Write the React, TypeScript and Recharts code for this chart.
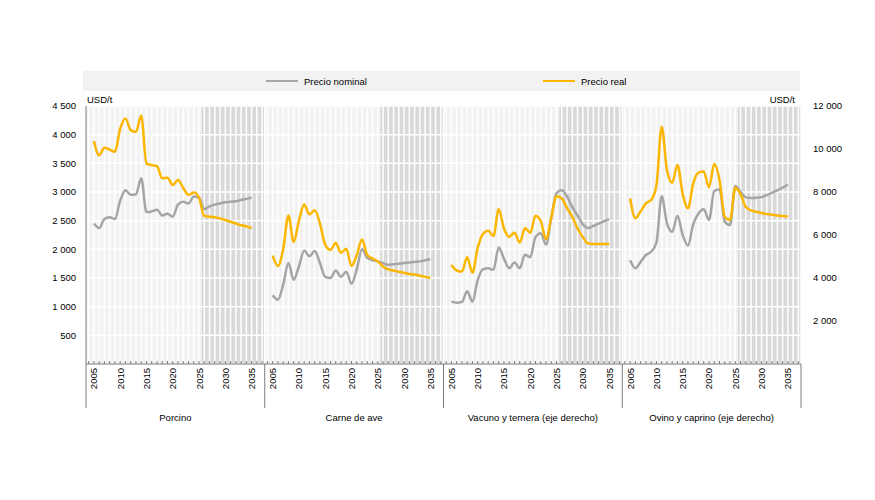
import { ComposedChart, Line, XAxis, YAxis, CartesianGrid, ReferenceArea } from 'recharts';

const years = [
  2005, 2006, 2007, 2008, 2009, 2010, 2011, 2012, 2013, 2014, 2015, 2016, 2017, 2018, 2019, 2020,
  2021, 2022, 2023, 2024, 2025, 2026, 2027, 2028, 2029, 2030, 2031, 2032, 2033, 2034, 2035,
];

const panelNames = ['Porcino', 'Carne de ave', 'Vacuno y ternera (eje derecho)', 'Ovino y caprino (eje derecho)'];

// USD/t, left axis
const porcinoNominal = [
  2450, 2370, 2530, 2560, 2530, 2850, 3030, 2950, 2960, 3240, 2650, 2660, 2690, 2590, 2620, 2570,
  2780, 2830, 2800, 2920, 2900, 2700, 2750, 2780, 2800, 2820, 2830, 2840, 2860, 2880, 2900,
];
const porcinoReal = [
  3890, 3640, 3770, 3740, 3700, 4100, 4280, 4080, 4050, 4330, 3500, 3470, 3450, 3240, 3250, 3120,
  3210, 3070, 2950, 2990, 2900, 2580, 2570, 2560, 2540, 2510, 2480, 2450, 2420, 2400, 2370,
];
const aveNominal = [
  1200, 1120, 1380, 1760, 1470, 1700, 1980, 1880, 1970, 1760, 1520, 1500, 1630, 1520, 1610, 1400,
  1650, 2000, 1850, 1810, 1790, 1760, 1730, 1740, 1750, 1760, 1770, 1780, 1790, 1810, 1830,
];
const aveReal = [
  1890, 1710, 2000, 2590, 2130, 2500, 2780, 2610, 2680, 2450, 2080, 1990, 2110, 1940, 2010, 1710,
  1900, 2170, 1900, 1840, 1790, 1700, 1650, 1630, 1610, 1590, 1570, 1560, 1540, 1520, 1500,
];
// USD/t, right axis
const vacunoNominal = [
  2900, 2850, 2880, 3380, 2900, 3900, 4400, 4450, 4380, 5420, 4900, 4450, 4720, 4450, 5080, 4970,
  5900, 6080, 5550, 6800, 7950, 8080, 7800, 7300, 6900, 6500, 6320, 6420, 6530, 6640, 6740,
];
const vacunoReal = [
  4600, 4350, 4300, 4960, 4250, 5400, 6050, 6200, 5950, 7200, 6300, 5920, 6110, 5650, 6310, 6110,
  6900, 6650, 5800, 6800, 7800, 7700, 7250, 6850, 6300, 5900, 5600, 5580, 5580, 5580, 5580,
];
const ovinoNominal = [
  4830, 4450, 4750, 5070, 5220, 5650, 7800, 6550, 6150, 6900, 6000, 5500, 6500, 7000, 7200, 6700,
  8050, 8130, 6620, 6460, 8280, 8000, 7750, 7720, 7730, 7760, 7850, 7970, 8080, 8200, 8350,
];
const ovinoReal = [
  7700, 6780, 7100, 7470, 7630, 8300, 11040, 9020, 8430, 9260, 7900, 7240, 8400, 8900, 8950, 8220,
  9300, 8560, 6850, 6700, 8200, 7900, 7300, 7150, 7080, 7020, 6980, 6940, 6910, 6880, 6860,
];

const leftTicks = [500, 1000, 1500, 2000, 2500, 3000, 3500, 4000, 4500];
const rightTicks = [2000, 4000, 6000, 8000, 10000, 12000];

const nominalSeries = [porcinoNominal, aveNominal, vacunoNominal, ovinoNominal];
const realSeries = [porcinoReal, aveReal, vacunoReal, ovinoReal];
const axisOf = ['left', 'left', 'right', 'right'];

// each panel: 1 empty slot, 31 years, 2 empty slots
const SLOTS = 34;
const TOTAL = SLOTS * panelNames.length;
const FIRST_PROJ = 2026;

const data = panelNames.flatMap((_, p) =>
  years.map((year, i) => ({
    x: p * SLOTS + 1.5 + i,
    year,
    [`nom${p}`]: nominalSeries[p][i],
    [`real${p}`]: realSeries[p][i],
  }))
);

const yearByX = new Map(data.map((d) => [d.x, d.year]));
const boundaries = panelNames.map((_, p) => p * SLOTS).concat([TOTAL]);
const blankSlots = panelNames.flatMap((_, p) => [p * SLOTS + 0.5, p * SLOTS + 32.5, p * SLOTS + 33.5]);
const xTicks = [...boundaries, ...blankSlots, ...data.map((d) => d.x)].sort((a, b) => a - b);
const nameTicks = panelNames.map((_, p) => p * SLOTS + SLOTS / 2);

const FONT = '"Liberation Sans", Arial, sans-serif';
const GREY = '#a5a5a5';
const YELLOW = '#fbb600';
const AXIS = '#7a7a7a';

const fmt = (v: number) => String(v).replace(/\B(?=(\d{3})+(?!\d))/g, ' ');

const YearTick = (props: any) => {
  const { x, y, payload } = props;
  const v = payload.value;
  if (boundaries.includes(v)) {
    return <line x1={x} x2={x} y1={y} y2={y + 44} stroke={AXIS} strokeWidth={1} />;
  }
  const year = yearByX.get(v);
  return (
    <g>
      <line x1={x} x2={x} y1={y - 3} y2={y} stroke={AXIS} strokeWidth={1} />
      {year !== undefined && year % 5 === 0 && (
        <text
          x={x}
          y={y + 4}
          transform={`rotate(-90 ${x} ${y + 4})`}
          textAnchor="end"
          dominantBaseline="central"
          fontSize={9.5}
          fontFamily={FONT}
          fill="#000"
        >
          {year}
        </text>
      )}
    </g>
  );
};

const LegendItem = ({ color, label, left }: { color: string; label: string; left: number }) => (
  <div style={{ position: 'absolute', left, top: 0, height: 20, display: 'flex', alignItems: 'center' }}>
    <div style={{ width: 32, height: 2.5, background: color, marginRight: 6 }} />
    <span style={{ fontSize: 9.5, color: '#000' }}>{label}</span>
  </div>
);

export default function App() {
  return (
    <div style={{ position: 'absolute', left: 0, top: 0, width: 875, height: 500, fontFamily: FONT, background: '#fff' }}>
      <div style={{ position: 'absolute', left: 83, top: 71, width: 717, height: 20, background: '#f2f2f2' }}>
        <LegendItem color={GREY} label="Precio nominal" left={183} />
        <LegendItem color={YELLOW} label="Precio real" left={460} />
      </div>
      <div style={{ position: 'absolute', left: 87, top: 94, fontSize: 9.5, color: '#000' }}>USD/t</div>
      <div style={{ position: 'absolute', right: 875 - 795, top: 94, fontSize: 9.5, color: '#000' }}>USD/t</div>

      <ComposedChart width={875} height={500} data={data} margin={{ top: 106, right: 0, bottom: 62, left: 0 }}>
        <ReferenceArea yAxisId="left" x1={0} x2={TOTAL} y1={0} y2={4500} fill="#f2f2f2" fillOpacity={1} stroke="none" zIndex={-200} />
        {panelNames.map((_, p) => (
          <ReferenceArea
            key={`proj${p}`}
            yAxisId="left"
            x1={p * SLOTS + 1 + (FIRST_PROJ - 2005)}
            x2={(p + 1) * SLOTS}
            y1={0}
            y2={4500}
            fill="#d9d9d9"
            fillOpacity={1}
            stroke="none"
            zIndex={-150}
          />
        ))}
        <CartesianGrid yAxisId="left" stroke="#ffffff" strokeWidth={1.5} fill="none" />
        <XAxis
          dataKey="x"
          type="number"
          domain={[0, TOTAL]}
          ticks={xTicks}
          interval={0}
          tick={<YearTick />}
          tickLine={false}
          tickSize={0}
          tickMargin={0}
          axisLine={{ stroke: AXIS }}
          height={44}
          allowDataOverflow
        />
        <XAxis
          xAxisId="names"
          dataKey="x"
          type="number"
          domain={[0, TOTAL]}
          ticks={nameTicks}
          interval={0}
          tickFormatter={(v: number) => panelNames[Math.floor(v / SLOTS)]}
          tick={{ fontSize: 9.5, fontFamily: FONT, fill: '#000' }}
          tickLine={false}
          axisLine={false}
          tickSize={0}
          tickMargin={6}
          height={30}
        />
        <YAxis
          yAxisId="left"
          domain={[0, 4500]}
          ticks={leftTicks}
          interval={0}
          tickFormatter={fmt}
          tick={{ fontSize: 9.5, fontFamily: FONT, fill: '#000' }}
          tickLine={false}
          tickMargin={4}
          axisLine={{ stroke: AXIS }}
          width={86}
        />
        <YAxis
          yAxisId="right"
          orientation="right"
          domain={[0, 12000]}
          ticks={rightTicks}
          interval={0}
          tickFormatter={fmt}
          tick={{ fontSize: 9.5, fontFamily: FONT, fill: '#000', textAnchor: 'start' }}
          tickLine={false}
          tickMargin={6}
          axisLine={false}
          width={74}
        />
        {panelNames.map((_, p) => (
          <Line
            key={`nom${p}`}
            yAxisId={axisOf[p]}
            dataKey={`nom${p}`}
            type="monotone"
            stroke={GREY}
            strokeWidth={2.5}
            dot={false}
            activeDot={false}
            isAnimationActive={false}
          />
        ))}
        {panelNames.map((_, p) => (
          <Line
            key={`real${p}`}
            yAxisId={axisOf[p]}
            dataKey={`real${p}`}
            type="monotone"
            stroke={YELLOW}
            strokeWidth={2.5}
            dot={false}
            activeDot={false}
            isAnimationActive={false}
          />
        ))}
      </ComposedChart>
    </div>
  );
}
